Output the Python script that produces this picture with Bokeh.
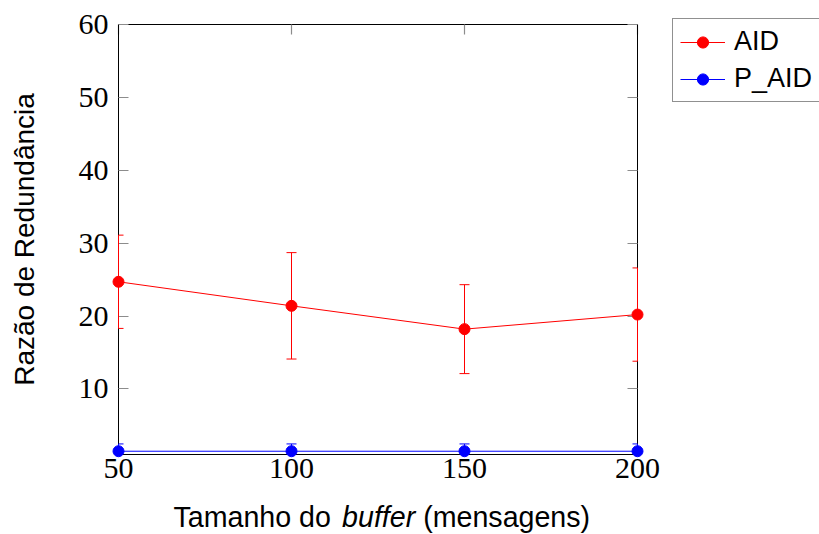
from bokeh.plotting import figure
from bokeh.models import (LinearAxis, FixedTicker, Range1d, Legend, LegendItem,
                          ColumnDataSource, Label)
from bokeh.embed import file_html
from bokeh.resources import INLINE

# Buffer sizes (messages) and redundancy ratio per protocol
buffer_sizes = [50, 100, 150, 200]
aid_values = [24.7, 21.4, 18.2, 20.2]
aid_errors = [6.4, 7.3, 6.1, 6.4]
paid_values = [1.45, 1.45, 1.45, 1.45]
paid_errors = [1.0, 1.0, 1.0, 1.0]

x_ticks = [50, 100, 150, 200]
y_ticks = [10, 20, 30, 40, 50, 60]
x_lim = (50, 200)
y_lim = (1, 60)

RED = "#ff0000"
BLUE = "#0000ff"
TICK_GRAY = "#8c8c8c"

W, H = 819, 534
# axis box inside the canvas (pixels from the left / top edge)
BOX_L, BOX_R, BOX_T, BOX_B = 118, 637, 24, 454
CAP_HALF = 5  # half width of the error-bar caps, pixels

# The plotting frame fills the whole canvas; the axis box is drawn with
# fixed-location axes so that labels, markers and legend are never clipped.
sx = (BOX_R - BOX_L) / (x_lim[1] - x_lim[0])
sy = (BOX_B - BOX_T) / (y_lim[1] - y_lim[0])
x_range = Range1d(x_lim[0] - BOX_L / sx, x_lim[1] + (W - BOX_R) / sx)
y_range = Range1d(y_lim[0] - (H - BOX_B) / sy, y_lim[1] + BOX_T / sy)


def series_source(values, errors):
    cap = CAP_HALF / sx
    return ColumnDataSource(dict(
        x=buffer_sizes,
        y=values,
        lo=[max(v - e, y_lim[0]) for v, e in zip(values, errors)],
        hi=[v + e for v, e in zip(values, errors)],
        # caps are cut at the axis box, as the error bars are
        cx0=[max(x - cap, x_lim[0]) for x in buffer_sizes],
        cx1=[min(x + cap, x_lim[1]) for x in buffer_sizes],
        has_lo=[v - e > y_lim[0] for v, e in zip(values, errors)],
    ))


p = figure(width=W, height=H, output_backend="svg", toolbar_location=None,
           x_range=x_range, y_range=y_range,
           x_axis_type=None, y_axis_type=None,
           min_border=0)
p.title.visible = False
p.outline_line_color = None
p.xgrid.visible = False
p.ygrid.visible = False
p.background_fill_color = "white"
p.border_fill_color = "white"


def make_axis(ticks, location, bounds, show_labels):
    ax = LinearAxis(ticker=FixedTicker(ticks=ticks), fixed_location=location,
                    bounds=bounds)
    ax.level = "underlay"
    ax.axis_line_color = "black"
    ax.axis_line_width = 1
    ax.major_tick_in = 10
    ax.major_tick_out = 0
    ax.minor_tick_line_color = None
    ax.major_tick_line_color = TICK_GRAY
    ax.major_tick_line_width = 1.2
    ax.major_label_text_font = "Liberation Serif"
    ax.major_label_text_font_size = "30px"
    ax.major_label_text_color = "black"
    if not show_labels:
        ax.major_label_overrides = {t: "" for t in ticks}
        ax.major_label_standoff = 0
    return ax


left = make_axis(y_ticks, x_lim[0], y_lim, True)
left.major_label_standoff = 10
left.axis_label = "Razão de Redundância"
left.axis_label_text_font = "Liberation Sans"
left.axis_label_text_font_size = "28px"
left.axis_label_text_font_style = "normal"
left.axis_label_text_color = "black"
left.axis_label_standoff = 36
p.add_layout(left, "left")

right = make_axis(y_ticks, x_lim[1], y_lim, False)
p.add_layout(right, "right")

bottom = make_axis(x_ticks, y_lim[0], x_lim, True)
bottom.major_label_standoff = 4
p.add_layout(bottom, "below")

top = make_axis(x_ticks, y_lim[1], x_lim, False)
p.add_layout(top, "above")

renderers = {}
for name, vals, errs, color in [("AID", aid_values, aid_errors, RED),
                                ("P_AID", paid_values, paid_errors, BLUE)]:
    src = series_source(vals, errs)
    # error bars with caps
    p.segment(x0="x", y0="lo", x1="x", y1="hi", source=src,
              line_color=color, line_width=1)
    p.segment(x0="cx0", y0="hi", x1="cx1", y1="hi", source=src,
              line_color=color, line_width=1)
    lo_src = ColumnDataSource({k: [v for v, keep in zip(col, src.data["has_lo"]) if keep]
                               for k, col in src.data.items()})
    p.segment(x0="cx0", y0="lo", x1="cx1", y1="lo", source=lo_src,
              line_color=color, line_width=1)
    ln = p.line(x="x", y="y", source=src, line_color=color, line_width=1)
    dot = p.scatter(x="x", y="y", source=src, marker="circle", size=11,
                    fill_color=color, line_color=color)
    renderers[name] = [ln, dot]

legend = Legend(items=[LegendItem(label="AID", renderers=renderers["AID"]),
                       LegendItem(label="P_AID", renderers=renderers["P_AID"])],
                location=(672, H - 102))
legend.border_line_color = "#222222"
legend.border_line_width = 1
legend.background_fill_color = "white"
legend.background_fill_alpha = 1
legend.label_text_font = "Liberation Sans"
legend.label_text_font_size = "27px"
legend.label_text_color = "black"
legend.glyph_width = 45
legend.glyph_height = 28
legend.label_height = 28
legend.label_width = 76
legend.label_standoff = 9
legend.spacing = 6
legend.padding = 7
legend.margin = 0
p.add_layout(legend)

# x-axis title, with the word "buffer" in italics
for txt, xpos, style in [("Tamanho do", 173, "normal"),
                         ("buffer", 341.6, "italic"),
                         ("(mensagens)", 422.7, "normal")]:
    p.add_layout(Label(x=xpos, y=17.5, x_units="screen", y_units="screen",
                       text=txt, text_font="Liberation Sans",
                       text_font_size="28.6px", text_font_style=style,
                       text_align="left", text_baseline="alphabetic",
                       text_color="black"))

open("out.html", "w").write(file_html(p, INLINE))
